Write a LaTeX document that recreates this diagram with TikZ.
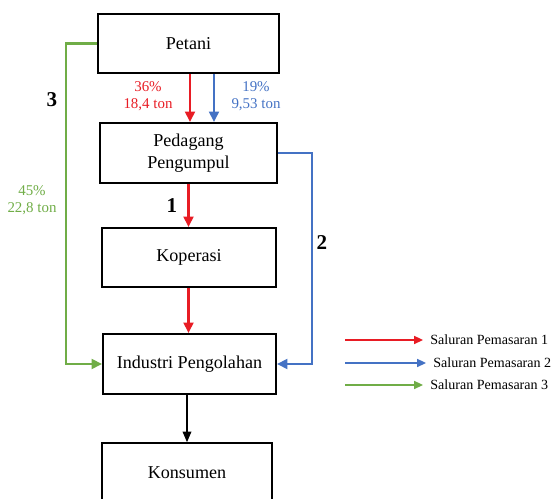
\documentclass[tikz,border=0pt]{standalone}
\usepackage{fontspec}
\setmainfont{Liberation Serif}
\usetikzlibrary{arrows.meta}

\definecolor{salurred}{RGB}{232,28,36}
\definecolor{salurblue}{RGB}{68,114,196}
\definecolor{salurgreen}{RGB}{112,173,71}

\begin{document}
\begin{tikzpicture}[
						x=0.02cm, y=-0.02cm,
						every node/.style={font=\fontsize{10.3}{12.4}\selectfont},
						box/.style={draw, line width=1pt, inner sep=0pt, align=center},
						redline/.style={draw=salurred, line width=1.5pt, -{Triangle[length=6pt,width=5.5pt]}},
						blueline/.style={draw=salurblue, line width=1.5pt, -{Triangle[length=6pt,width=5.5pt]}},
						greenline/.style={draw=salurgreen, line width=1.5pt, -{Triangle[length=6pt,width=5.5pt]}},
						legline/.style={line width=1pt, -{Triangle[length=5pt,width=4.5pt]}},
						small/.style={font=\fontsize{8.5}{9.5}\selectfont, align=center},
						legtext/.style={font=\fontsize{8}{9.5}\selectfont, anchor=west, inner sep=0pt},
						num/.style={font=\fontsize{12}{14}\selectfont\bfseries},
						line cap=butt,
						line join=miter
						]
						
						% Page
						\useasboundingbox (0,0) rectangle (555,499);
						\clip (0,0) rectangle (555,499);
						
						% Boxes
						\node[box, minimum width=3.62cm, minimum height=1.18cm] (petani) at (188.5,43.5) {Petani};
						\node[box, minimum width=3.54cm, minimum height=1.2cm] (pedagang) at (188.5,153) {Pedagang\\Pengumpul};
						\node[box, minimum width=3.48cm, minimum height=1.18cm] (koperasi) at (189,257.5) {Koperasi};
						\node[box, minimum width=3.46cm, minimum height=1.2cm] (industri) at (189.5,364) {Industri Pengolahan};
						\node[box, minimum width=3.4cm, minimum height=1.2cm] (konsumen) at (187,473) {Konsumen};
						
						% Saluran 1 (red)
						\draw[redline] ([xshift=0.03cm]petani.south) -- ([xshift=0.03cm]pedagang.north);
						\draw[redline] (pedagang.south) -- (pedagang.south |- koperasi.north);
						\draw[redline] (pedagang.south |- koperasi.south) -- (pedagang.south |- industri.north);
						
						% Saluran 2 (blue)
						\draw[blueline] ([xshift=0.51cm]petani.south) -- ([xshift=0.51cm]pedagang.north);
						\draw[blueline] (pedagang.east) -- ++(34,0) |- (industri.east);
						
						% Saluran 3 (green)
						\draw[greenline] (petani.west) -- ++(-31,0) |- (industri.west);
						
						% To consumer
						\draw[line width=0.6pt, -{Triangle[length=6pt,width=5pt]}] (konsumen.north |- industri.south) -- (konsumen.north);
						
						% Shares
						\node[small, text=salurred] (share1) at (148,96) {36\%\\18,4 ton};
						\node[small, text=salurblue] (share2) at (256,96) {19\%\\9,53 ton};
						\node[small, text=salurgreen] (share3) at (32,200) {45\%\\22,8 ton};
						
						% Channel numbers
						\node[num] (n3) at (52,100) {3};
						\node[num] (n1) at (172,206) {1};
						\node[num] (n2) at (322,243) {2};
						
						% Legend
						\foreach \i/\c/\y/\xt in {1/salurred/340/430,2/salurblue/363/433,3/salurgreen/385/430}{
							\coordinate (leg\i) at (345,\y);
							\node[legtext] (legtext\i) at (\xt,\y) {Saluran Pemasaran \i};
							\draw[legline, draw=\c] (leg\i) -- ([xshift=-0.14cm]legtext\i.west);
						}
						
					\end{tikzpicture}
\end{document}
